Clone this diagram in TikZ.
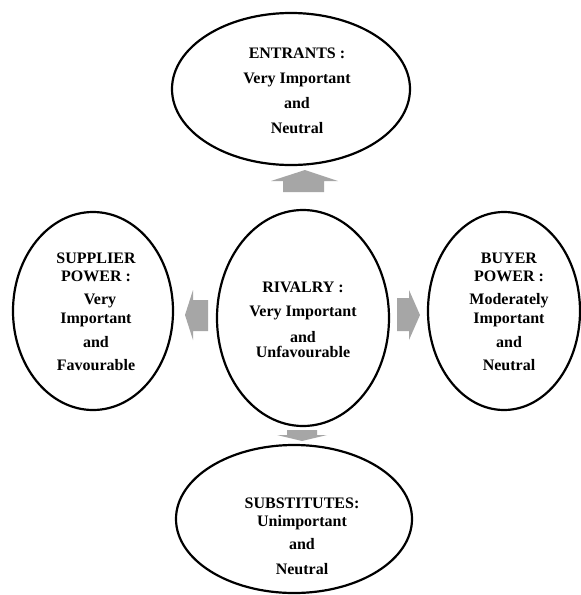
\documentclass[tikz,border=0pt]{standalone}
\usepackage{fontspec}
\setmainfont{Liberation Serif}
\usetikzlibrary{shapes.geometric}
\definecolor{arrowgray}{RGB}{166,166,166}
\tikzset{
  force/.style={draw=black, line width=2.2pt, ellipse, inner sep=0pt},
  forcetext/.style={align=center, inner sep=0pt,
    font=\fontsize{16}{25}\bfseries\selectfont},
  blockarrow/.style={fill=arrowgray, draw=none}
}
\begin{document}
\begin{tikzpicture}[x=1pt, y=-1pt]
  \useasboundingbox[fill=white] (0,0) rectangle (581,595);

  % the five forces
  \node[force, minimum width=238pt, minimum height=152pt] (ent) at (291,89) {};
  \node[force, minimum width=160pt, minimum height=198pt] (sup) at (93,311) {};
  \node[force, minimum width=172pt, minimum height=216pt] (riv) at (303,318) {};
  \node[force, minimum width=152pt, minimum height=198pt] (buy) at (504,311) {};
  \node[force, minimum width=236pt, minimum height=148pt] (sub) at (294,519) {};

  % labels
  \node[forcetext] (entT) at (297,91)
    {ENTRANTS :\\Very Important\\and\\Neutral};
  \node[forcetext, font=\fontsize{16}{24}\bfseries\selectfont] (rivT) at (303,320)
    {RIVALRY :\\Very Important\\[2pt]and\\[-9pt]Unfavourable};
  \node[forcetext, font=\fontsize{16}{18}\bfseries\selectfont] (supT) at (96,312)
    {SUPPLIER\\POWER :\\[5pt]\hspace*{8pt}Very\\[1pt]Important\\[6pt]and\\[5pt]Favourable};
  \node[forcetext, font=\fontsize{16}{18}\bfseries\selectfont] (buyT) at (509,312)
    {BUYER\\POWER :\\[5pt]Moderately\\[1pt]Important\\[6pt]and\\[5pt]Neutral};
  \node[forcetext, font=\fontsize{16}{18}\bfseries\selectfont] (subT) at (302,536)
    {SUBSTITUTES:\\[0pt]Unimportant\\[5pt]and\\[7pt]Neutral};

  % block arrows pointing out of the rivalry ellipse
  \fill[blockarrow] (283,192) -- (283,181) -- (271,181) -- (305,170)
    -- (338,181) -- (324,181) -- (324,192) -- cycle;
  \fill[blockarrow] (208,300) -- (193,300) -- (193,290) -- (185,315)
    -- (193,340) -- (193,331) -- (208,331) -- cycle;
  \fill[blockarrow] (397,298) -- (409,298) -- (409,290) -- (420,315)
    -- (409,340) -- (409,331) -- (397,331) -- cycle;
  \fill[blockarrow] (287,430) -- (317,430) -- (317,435) -- (327,435)
    -- (302,441) -- (277,435) -- (287,435) -- cycle;
\end{tikzpicture}
\end{document}
